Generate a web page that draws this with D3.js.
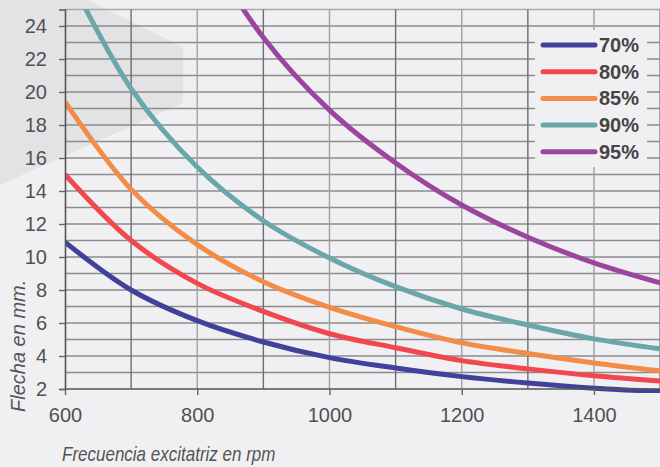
<!DOCTYPE html>
<html><head><meta charset="utf-8">
<script src="https://cdn.jsdelivr.net/npm/d3@7"></script>
<style>html,body{margin:0;padding:0;background:#f0f0f2;}svg{display:block;font-family:"Liberation Sans",Arial,sans-serif;}</style>
</head><body>
<script>
const rpm = [600, 700, 800, 900, 1000, 1100, 1200, 1300, 1400, 1500];
const s70 = [10.9, 8.0, 6.14, 4.85, 3.9, 3.27, 2.75, 2.36, 2.05, 1.85];
const s80 = [15.0, 11.0, 8.4, 6.7, 5.35, 4.5, 3.72, 3.22, 2.8, 2.48];
const s85 = [19.4, 14.1, 10.75, 8.5, 6.95, 5.78, 4.8, 4.15, 3.58, 3.1];
const s90 = [27.5, 20.2, 15.45, 12.2, 9.94, 8.2, 6.85, 5.88, 5.04, 4.43];
const s95 = [null, 37.0, 29.5, 23.3, 18.9, 15.7, 13.15, 11.2, 9.64, 8.43];
const seriesNames = ["70%", "80%", "85%", "90%", "95%"];
const seriesColors = ["#41419b", "#f2474f", "#f38c46", "#6ba6a9", "#9b469e"];
const yTicks = [2, 4, 6, 8, 10, 12, 14, 16, 18, 20, 22, 24];
const xTicks = [600, 800, 1000, 1200, 1400];
const xTitle = "Frecuencia excitatriz en rpm";
const yTitle = "Flecha en mm.";
const allSeries = [s70, s80, s85, s90, s95];

const W = 660, H = 467;
const svg = d3.select("body").append("svg").attr("width", W).attr("height", H);
svg.append("rect").attr("width", W).attr("height", H).attr("fill", "#f0f0f2");
// decorative chevron
svg.append("polygon").attr("points", "0,0 88,0 183,47 183,103 0,185").attr("fill", "#e3e3e5");

const x = d3.scaleLinear().domain([600, 1500]).range([65, 660.1]);
const y = d3.scaleLinear().domain([2, 25]).range([389, 9.5]);

// grid
const g = svg.append("g");
g.selectAll("line.h").data(d3.range(3, 26)).join("line")
  .attr("x1", x(600)).attr("x2", x(1500))
  .attr("y1", d => y(d)).attr("y2", d => y(d))
  .attr("stroke", d => d === 25 ? "#a9a9ab" : "#8c8c8e").attr("stroke-width", 1.4);
g.selectAll("line.v").data(d3.range(700, 1501, 100)).join("line")
  .attr("x1", d => x(d)).attr("x2", d => x(d))
  .attr("y1", y(25)).attr("y2", y(2))
  .attr("stroke", d => (d / 100) % 2 === 1 ? "#6e6e70" : "#a0a0a2").attr("stroke-width", 1.4);

// lines
svg.append("clipPath").attr("id", "clip").append("rect")
  .attr("x", x(600)).attr("y", y(25)).attr("width", x(1500) - x(600) + 2).attr("height", y(2) - y(25) + 4);
const line = d3.line().defined(d => d[1] != null).x(d => x(d[0])).y(d => y(d[1])).curve(d3.curveCatmullRom.alpha(0.5));
const lg = svg.append("g").attr("clip-path", "url(#clip)");
allSeries.forEach((s, i) => {
  lg.append("path").datum(rpm.map((r, k) => [r, s[k]]))
    .attr("d", line).attr("fill", "none").attr("stroke", seriesColors[i])
    .attr("stroke-width", 5).attr("stroke-linejoin", "round");
});

// axes
const yAxis = svg.append("g").attr("transform", `translate(${x(600)},0)`)
  .call(d3.axisLeft(y).tickValues(yTicks).tickSize(6).tickPadding(12).tickFormat(d3.format("d")));
const xAxis = svg.append("g").attr("transform", `translate(0,${y(2)})`)
  .call(d3.axisBottom(x).tickValues(xTicks).tickSize(6).tickPadding(13).tickFormat(d3.format("d")));
[yAxis, xAxis].forEach(a => {
  a.select(".domain").attr("stroke", "#555").attr("stroke-width", 1.6);
  a.selectAll(".tick line").attr("stroke", "#666").attr("stroke-width", 1.4);
  a.selectAll(".tick text").attr("fill", "#505052").attr("font-size", 20)
    .attr("font-family", "Liberation Sans, Arial, sans-serif");
});
xAxis.select(".domain").attr("d", `M${x(600)},0H${x(1500)}`);

// titles
svg.append("text").attr("transform", "translate(62,461) scale(0.81,1)").attr("font-size", 21).attr("font-style", "italic")
  .attr("fill", "#555").text(xTitle);
svg.append("text").attr("transform", "translate(25,412) rotate(-90)").attr("font-size", 20)
  .attr("font-style", "italic").attr("fill", "#555").text(yTitle);

// legend
const leg = svg.append("g");
leg.append("rect").attr("x", 535).attr("y", 30).attr("width", 112).attr("height", 137).attr("fill", "#f0f0f2");
seriesNames.forEach((n, i) => {
  const yy = 45 + i * 26.7;
  leg.append("line").attr("x1", 543).attr("x2", 595).attr("y1", yy).attr("y2", yy)
    .attr("stroke", seriesColors[i]).attr("stroke-width", 5).attr("stroke-linecap", "round");
  leg.append("text").attr("x", 599).attr("y", yy + 7).attr("font-size", 20).attr("font-weight", "bold")
    .attr("fill", "#444").text(n);
});
</script>
</body></html>
